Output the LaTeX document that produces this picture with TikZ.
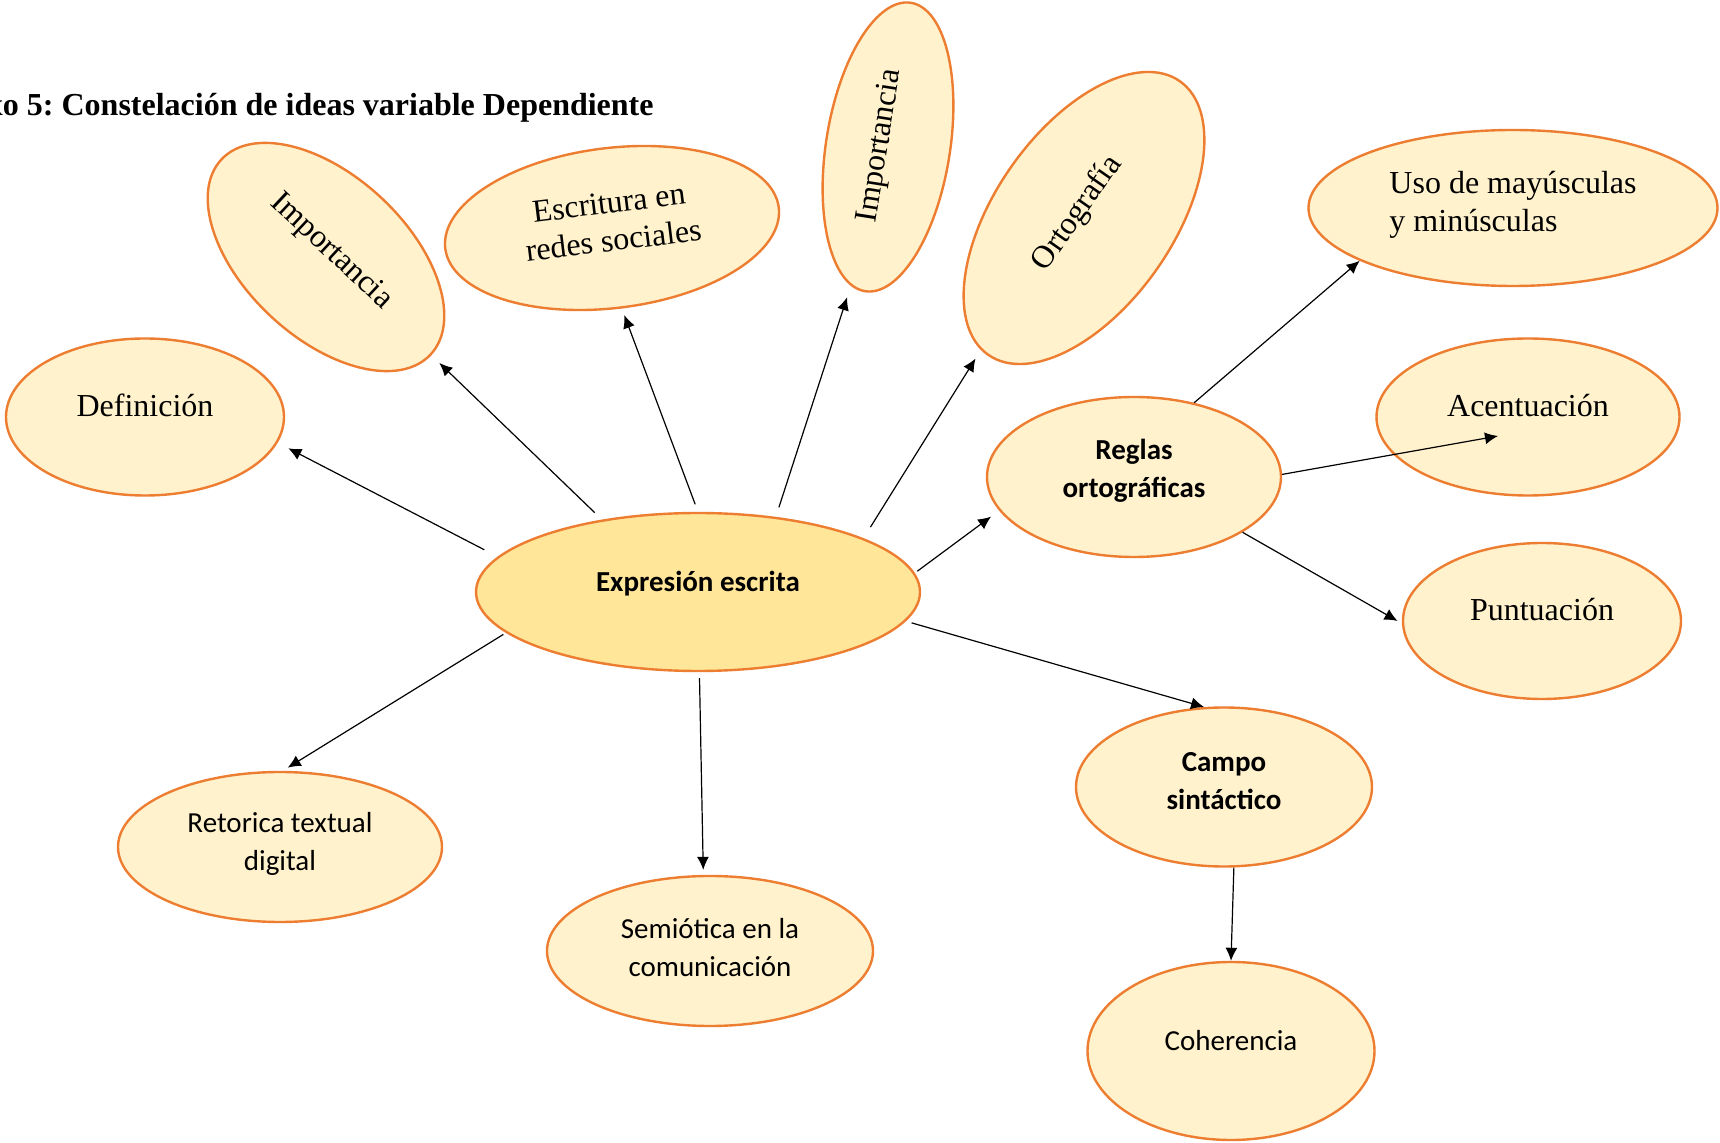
\documentclass[tikz,border=0pt]{standalone}
\usepackage{fontspec}
\setmainfont{Liberation Serif}
\newfontfamily\calib{Carlito}
\usetikzlibrary{shapes.geometric,arrows.meta,calc}
\definecolor{ellborder}{HTML}{ED7D31}
\definecolor{ellfill}{HTML}{FFF2CC}
\definecolor{ellcore}{HTML}{FFE699}
\tikzset{
  ell/.style={ellipse, draw=ellborder, line width=1.2pt, fill=ellfill, inner sep=0pt},
  serif/.style={font=\fontsize{16}{19}\selectfont, align=center, inner sep=0pt, anchor=base},
  sans/.style={font=\calib\fontsize{14.5}{19}\selectfont, align=center, inner sep=0pt, anchor=base},
  sansb/.style={font=\calib\bfseries\fontsize{14.5}{19}\selectfont, align=center, inner sep=0pt, anchor=base},
  arr/.style={-{Latex[length=6.5pt,width=6pt]}, line width=0.6pt, black},
}
\frenchspacing
\begin{document}
\begin{tikzpicture}[x=0.5pt,y=-0.5pt]
\useasboundingbox (0,0) rectangle (1720,1143);

% title
\node[font=\bfseries\fontsize{16}{19}\selectfont, inner sep=0pt, anchor=base east] (title) at (654,116)
  {Anexo 5: Constelación de ideas variable Dependiente};

% ellipses
\node[ell, fill=ellcore, minimum width=222pt, minimum height=79pt] (expr) at (698,592) {};
\node[ell, minimum width=139pt, minimum height=78.5pt] (def) at (145,417) {};
\node[ell, rotate=-43, minimum width=143pt, minimum height=81pt] (imp1) at (326,257) {};
\node[ell, rotate=7, minimum width=168pt, minimum height=80pt] (esc) at (612,228) {};
\node[ell, rotate=81, minimum width=146pt, minimum height=62pt] (imp2) at (888,147) {};
\node[ell, rotate=55, minimum width=167pt, minimum height=89pt] (ort) at (1084,218) {};
\node[ell, minimum width=204.5pt, minimum height=78pt] (uso) at (1513,208) {};
\node[ell, minimum width=147pt, minimum height=80pt] (reglas) at (1134,477) {};
\node[ell, minimum width=151.5pt, minimum height=78.5pt] (acent) at (1528,417) {};
\node[ell, minimum width=139pt, minimum height=78pt] (punt) at (1542,621) {};
\node[ell, minimum width=148pt, minimum height=79.5pt] (campo) at (1224,787) {};
\node[ell, minimum width=143.5pt, minimum height=89pt] (coh) at (1231,1051) {};
\node[ell, minimum width=163pt, minimum height=75pt] (sem) at (710,951) {};
\node[ell, minimum width=162pt, minimum height=75pt] (ret) at (280,847) {};

% texts (base anchor = baseline of the last line)
\node[sansb] (exprt) at (expr.center) {Expresión escrita};
\node[serif] (deft) at (def.center) {Definición};
\node[serif, rotate=-43] (imp1t) at (imp1.center) {Importancia};
\node[serif, rotate=7] (esct) at ($(esc.center)!11.5pt!(esc.south)$) {Escritura en\\redes sociales};
\node[serif, rotate=81] (imp2t) at (imp2.center) {Importancia};
\node[serif, rotate=55] (ortt) at (ort.center) {Ortografía};
\node[serif, align=left] (usot) at ($(uso.center)+(0,24)$) {Uso de mayúsculas\\y minúsculas};
\node[sansb] (reglast) at ($(reglas.center)+(0,21)$) {Reglas\\ortográficas};
\node[serif] (acentt) at (acent.center) {Acentuación};
\node[serif] (puntt) at (punt.center) {Puntuación};
\node[sansb] (campot) at ($(campo.center)+(0,23)$) {Campo\\sintáctico};
\node[sans] (coht) at (coh.center) {Coherencia};
\node[sans] (semt) at ($(sem.center)+(0,26)$) {Semiótica en la\\comunicación};
\node[sans] (rett) at ($(ret.center)+(0,24)$) {Retorica textual\\digital};

% connectors
\draw[arr, shorten <=7.5pt, shorten >=6pt] (expr.170) -- (def.-11);
\draw[arr, shorten <=5pt, shorten >=5.5pt] (expr.143) -- (imp1.0);
\draw[arr, shorten <=4pt, shorten >=3.5pt] (expr.90) -- (esc.-90);
\draw[arr, shorten <=5pt, shorten >=6pt] (expr.44) -- (imp2.174);
\draw[arr, shorten <=6.5pt, shorten >=5pt] (expr.18) -- (ort.177);
\draw[arr, shorten <=1.5pt, shorten >=5pt] (expr.5.5) -- (reglas.-166.6);
\draw[arr] (reglas.51) -- (uso.-161.6);
\draw[arr] (reglas.1) -- ($(acent.center)+(-30,19)$);
\draw[arr, shorten >=2.5pt] (reglas.-27) -- (punt.181);
\draw[arr, shorten <=3pt] (expr.-8.2) -- (campo.104);
\draw[arr] (campo.-83) -- (coh.90);
\draw[arr, shorten <=3pt, shorten >=2.5pt] (expr.-89) -- (sem.95);
\draw[arr, shorten <=1.5pt, shorten >=3pt] (expr.-168) -- (ret.88);
\end{tikzpicture}
\end{document}
